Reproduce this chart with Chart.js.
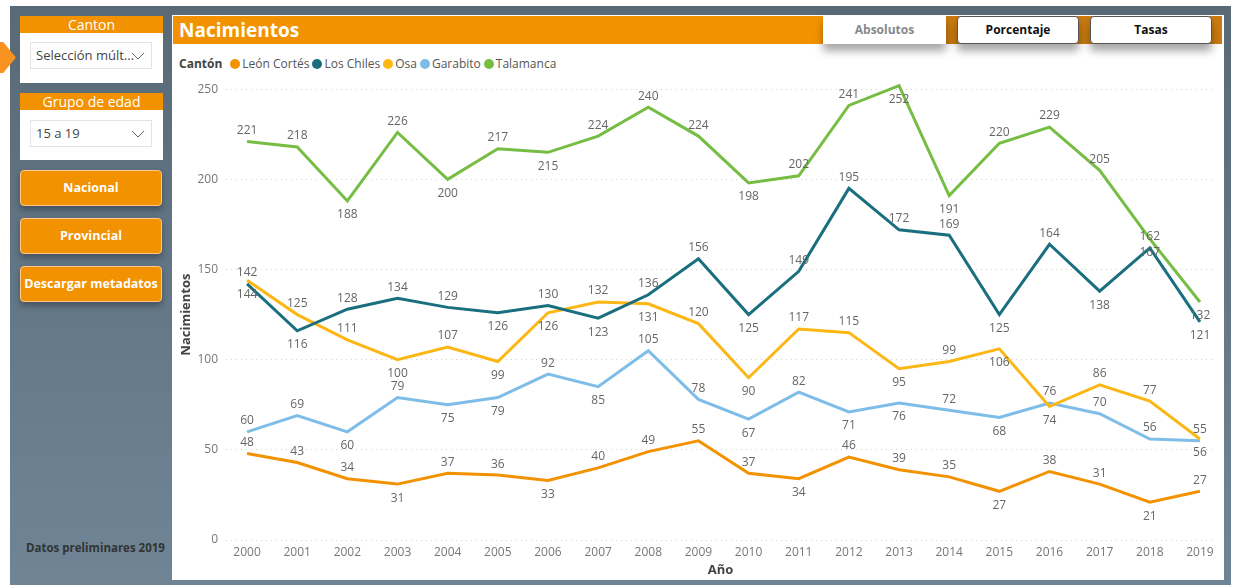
<!DOCTYPE html>
<html lang="es">
<head>
<meta charset="utf-8">
<script src="https://cdn.jsdelivr.net/npm/chart.js@4.4.1/dist/chart.umd.min.js"></script>
<style>
  body { margin: 0; width: 1238px; height: 585px; background: #fff; position: relative; overflow: hidden;
         font-family: 'Segoe UI', 'Open Sans', 'Noto Sans', sans-serif; }
  .abs { position: absolute; box-sizing: border-box; }
  #frame { left: 10px; top: 6px; width: 1221px; height: 579px; background: linear-gradient(#596976, #6f8596); }
  #arrow { left: 0; top: 42px; width: 16px; height: 31px; background: #f7931e;
           clip-path: polygon(0 0, 20% 0, 100% 50%, 20% 100%, 0 100%); }
  .card { background: #fff; left: 20px; width: 143px; }
  .card .hd { background: #f39200; color: #fff; text-align: center; font-size: 14px; height: 17px; line-height: 17px; }
  .dd { position: absolute; left: 10px; width: 122px; height: 27px; border: 1px solid #e3e3e3;
        font-size: 13px; color: #444; padding-left: 5px; line-height: 25px; box-sizing: border-box; }
  .dd svg { position: absolute; right: 6px; top: 9px; }
  .btn { left: 20px; width: 142px; height: 36px; background: #f39200; border: 1px solid #fbc98a; border-radius: 4px;
         color: #fff; font-weight: bold; font-size: 12.5px; text-align: center; line-height: 34px;
         box-shadow: 0 4px 6px rgba(0,0,0,.3); }
  #panel { left: 172px; top: 15px; width: 1052px; height: 565px; background: #fff; }
  #hdr { left: 173px; top: 16px; width: 1049px; height: 28px; background: #f39200; color: #fff;
         font-weight: bold; font-size: 19px; line-height: 28px; padding-left: 6px; }
  #hdr2 { left: 946px; top: 16px; width: 276px; height: 28px; background: #c97a10; }
  .tb { top: 16px; height: 28px; background: #fff; font-weight: bold; font-size: 12px; text-align: center;
        line-height: 28px; box-shadow: 0 7px 9px rgba(0,0,0,.35); }
  #legend { left: 179px; top: 55px; font-size: 12px; color: #555; display: flex; align-items: center; white-space: nowrap; }
  #legend b { color: #444; margin-right: 8px; }
  #legend span.item { display: flex; align-items: center; margin-right: 3px; }
  #legend i { display: inline-block; width: 10px; height: 10px; border-radius: 50%; margin-right: 2px; }
  #note { left: 26px; top: 540px; font-size: 11.5px; font-weight: bold; color: #333; }
  #wrap { left: 172px; top: 74px; width: 1050px; height: 506px; }
</style>
</head>
<body>
<div class="abs" id="frame"></div>
<div class="abs" id="arrow"></div>

<div class="abs card" style="top:16px;height:67px">
  <div class="hd">Canton</div>
  <div class="dd" style="top:26px">Selección múlt...
    <svg width="14" height="8"><polyline points="1,1 7,7 13,1" fill="none" stroke="#666" stroke-width="1"/></svg></div>
</div>
<div class="abs card" style="top:93px;height:67px">
  <div class="hd">Grupo de edad</div>
  <div class="dd" style="top:27px">15 a 19
    <svg width="14" height="8"><polyline points="1,1 7,7 13,1" fill="none" stroke="#666" stroke-width="1"/></svg></div>
</div>
<div class="abs btn" style="top:170px">Nacional</div>
<div class="abs btn" style="top:218px">Provincial</div>
<div class="abs btn" style="top:266px">Descargar metadatos</div>
<div class="abs" id="note">Datos preliminares 2019</div>

<div class="abs" id="panel"></div>
<div class="abs" id="hdr">Nacimientos</div>
<div class="abs" id="hdr2"></div>
<div class="abs tb" style="left:823px;width:123px;color:#888">Absolutos</div>
<div class="abs tb" style="left:957px;width:122px;color:#111;border:1px solid #555;border-radius:4px;line-height:26px">Porcentaje</div>
<div class="abs tb" style="left:1090px;width:122px;color:#111;border:1px solid #555;border-radius:4px;line-height:26px">Tasas</div>
<div class="abs" id="legend"><b>Cantón</b></div>

<div class="abs" id="wrap"><canvas id="chart" width="1050" height="506"></canvas></div>

<script>
const years = [2000, 2001, 2002, 2003, 2004, 2005, 2006, 2007, 2008, 2009,
               2010, 2011, 2012, 2013, 2014, 2015, 2016, 2017, 2018, 2019];
const leonCortes = [48, 43, 34, 31, 37, 36, 33, 40, 49, 55, 37, 34, 46, 39, 35, 27, 38, 31, 21, 27];
const losChiles  = [142, 116, 128, 134, 129, 126, 130, 123, 136, 156, 125, 149, 195, 172, 169, 125, 164, 138, 162, 121];
const osa        = [144, 125, 111, 100, 107, 99, 126, 132, 131, 120, 90, 117, 115, 95, 99, 106, 74, 86, 77, 56];
const garabito   = [60, 69, 60, 79, 75, 79, 92, 85, 105, 78, 67, 82, 71, 76, 72, 68, 76, 70, 56, 55];
const talamanca  = [221, 218, 188, 226, 200, 217, 215, 224, 240, 224, 198, 202, 241, 252, 191, 220, 229, 205, 167, 132];
const yTicks = [0, 50, 100, 150, 200, 250];

const series = [
  { name: 'León Cortés', values: leonCortes, color: '#f39200' },
  { name: 'Los Chiles',  values: losChiles,  color: '#1a6f7e' },
  { name: 'Osa',         values: osa,        color: '#fdb714' },
  { name: 'Garabito',    values: garabito,   color: '#7dbde8' },
  { name: 'Talamanca',   values: talamanca,  color: '#76bd43' }
];

// leyenda en html
const legend = document.getElementById('legend');
series.forEach(s => {
  const el = document.createElement('span');
  el.className = 'item';
  el.innerHTML = `<i style="background:${s.color}"></i>${s.name}`;
  legend.appendChild(el);
});

const FONT = "'Segoe UI', 'Open Sans', 'Noto Sans', sans-serif";

// etiquetas de datos: abajo en los mínimos locales, arriba en el resto, y se voltean si chocan
const pointLabels = {
  id: 'pointLabels',
  afterDatasetsDraw(chart) {
    const { ctx, chartArea } = chart;
    ctx.save();
    ctx.font = `12px ${FONT}`;
    ctx.fillStyle = '#666';
    ctx.textAlign = 'center';
    ctx.textBaseline = 'middle';
    const placed = [];
    const hits = b => placed.some(p => b.l < p.r && b.r > p.l && b.t < p.b && b.b > p.t);
    chart.data.datasets.forEach((ds, di) => {
      const meta = chart.getDatasetMeta(di);
      meta.data.forEach((pt, i) => {
        const v = ds.data[i].y;
        const prev = i > 0 ? ds.data[i - 1].y : Infinity;
        const next = i < ds.data.length - 1 ? ds.data[i + 1].y : Infinity;
        const below = v <= prev && v <= next;
        const text = String(v);
        const w = ctx.measureText(text).width;
        const box = b => {
          const cy = b ? pt.y + 14 : pt.y - 11;
          return { cy, l: pt.x - w / 2, r: pt.x + w / 2, t: cy - 6, b: cy + 6 };
        };
        let bx = box(below);
        if (bx.cy < chartArea.top || hits(bx)) bx = box(!below);
        placed.push(bx);
        ctx.fillText(text, pt.x, bx.cy);
      });
    });
    ctx.restore();
  }
};

new Chart(document.getElementById('chart'), {
  type: 'line',
  data: {
    datasets: series.map(s => ({
      label: s.name,
      data: years.map((y, i) => ({ x: y, y: s.values[i] })),
      borderColor: s.color,
      backgroundColor: s.color,
      borderWidth: 3,
      pointRadius: 0,
      tension: 0,
      clip: false
    }))
  },
  options: {
    responsive: false,
    animation: false,
    layout: { padding: { top: 14, right: 7, left: 0, bottom: 0 } },
    plugins: { legend: { display: false }, tooltip: { enabled: false } },
    scales: {
      x: {
        type: 'linear',
        min: years[0] - 0.42,
        max: years[years.length - 1] + 0.3,
        afterBuildTicks: s => { s.ticks = years.map(v => ({ value: v })); },
        afterFit: s => { s.height = 40; },
        grid: { display: false, drawTicks: false },
        border: { display: false },
        ticks: { color: '#777', font: { size: 12, family: FONT }, padding: 5, callback: v => String(v), maxRotation: 0 },
        title: { display: true, text: 'Año', color: '#444', font: { size: 13, weight: 'bold', family: FONT }, padding: { top: 0, bottom: 2 } }
      },
      y: {
        min: yTicks[0],
        max: yTicks[yTicks.length - 1],
        afterBuildTicks: s => { s.ticks = yTicks.map(v => ({ value: v })); },
        afterFit: s => { s.width = 54; },
        grid: { color: '#cfcfcf', borderDash: [1, 4], drawTicks: false, lineWidth: 1 },
        border: { display: false, dash: [1, 4] },
        ticks: { color: '#777', font: { size: 12, family: FONT }, padding: 8 },
        title: { display: true, text: 'Nacimientos', color: '#444', font: { size: 13, weight: 'bold', family: FONT }, padding: { top: 6, bottom: 0 } }
      }
    }
  },
  plugins: [pointLabels]
});
</script>
</body>
</html>
